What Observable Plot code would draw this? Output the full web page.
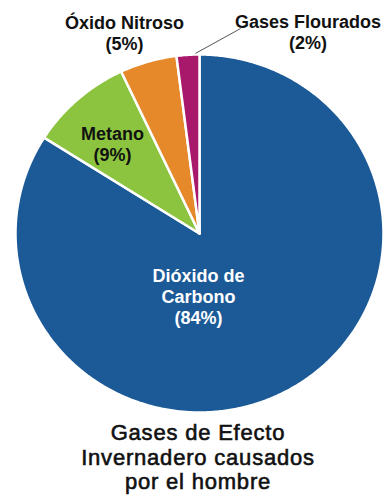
<!DOCTYPE html>
<html><head><meta charset="utf-8">
<script src="https://cdn.jsdelivr.net/npm/d3@7"></script>
<script src="https://cdn.jsdelivr.net/npm/@observablehq/plot@0.6"></script>
<style>
body{margin:0;background:#fff;width:384px;height:496px;overflow:hidden;font-family:"Liberation Sans",Arial,sans-serif}
#chart svg{display:block}
#title{text-align:center;font-size:22px;line-height:24.7px;letter-spacing:0.8px;color:#111;-webkit-text-stroke:0.6px #111;padding-top:3px;width:384px;margin-left:6px}
</style></head><body>
<div id="chart"></div>
<div id="title">Gases de Efecto<br>Invernadero causados<br>por el hombre</div>
<script>
// data
const gases = ["Dióxido de Carbono", "Metano", "Óxido Nitroso", "Gases Flourados"];
const shares = [84, 9, 5, 2];
const labels = ["Dióxido de\nCarbono\n(84%)", "Metano\n(9%)", "Óxido Nitroso\n(5%)", "Gases Flourados\n(2%)"];
const colors = ["#1b5a97", "#8cc43f", "#e5892b", "#a8186b"];

// layout (unit-circle coordinates, x right, y up)
const labelX = [-0.005, -0.473, -0.408, 0.59];
const labelY = [-0.352, 0.503, 1.123, 1.128];
const leader = {x1: -0.022, y1: 1.006, x2: 0.223, y2: 1.145};

const rows = gases.map((g, i) => ({gas: g, share: shares[i], label: labels[i], lx: labelX[i], ly: labelY[i]}));
const arcs = d3.pie().sort(null).value(d => d.share)(rows);
const pts = arcs.flatMap(a => {
  const n = Math.max(2, Math.ceil((a.endAngle - a.startAngle) / (Math.PI / 360)));
  const p = [{gas: a.data.gas, x: 0, y: 0}];
  for (let i = 0; i <= n; i++) {
    const t = a.startAngle + (a.endAngle - a.startAngle) * i / n;
    p.push({gas: a.data.gas, x: Math.sin(t), y: Math.cos(t)});
  }
  p.push({gas: a.data.gas, x: 0, y: 0});
  return p;
});

const chart = Plot.plot({
  width: 384, height: 418, margin: 0,
  style: {fontFamily: "'Liberation Sans', Arial, sans-serif", background: "white"},
  x: {domain: [-1, 1], range: [15, 383], axis: null},
  y: {domain: [-1, 1], range: [412, 54], axis: null},
  color: {domain: gases, range: colors},
  marks: [
    Plot.line(pts, {x: "x", y: "y", z: "gas", fill: "gas", stroke: "white", strokeWidth: 2.5, strokeLinejoin: "round", curve: "linear"}),
    Plot.link([leader], {x1: "x1", y1: "y1", x2: "x2", y2: "y2", stroke: "#555", strokeWidth: 1}),
    Plot.text(rows.filter(d => d.gas === gases[0]), {x: "lx", y: "ly", text: "label", fill: "white", fontSize: 18, fontWeight: "bold", lineHeight: 1.17}),
    Plot.text(rows.filter(d => d.gas !== gases[0]), {x: "lx", y: "ly", text: "label", fill: "#111", fontSize: 18, fontWeight: "bold", lineHeight: 1.17})
  ]
});
document.getElementById("chart").appendChild(chart);
</script>
</body></html>
